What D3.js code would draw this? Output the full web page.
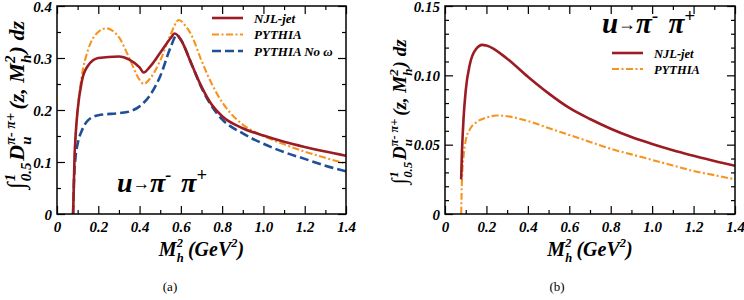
<!DOCTYPE html>
<html><head><meta charset="utf-8">
<script src="https://cdn.jsdelivr.net/npm/d3@7"></script>
<style>
body{margin:0;background:#fff;}
svg{display:block;}
text{font-family:"Liberation Serif","Times New Roman",serif;}
</style></head>
<body>
<svg id="chart" width="744" height="300" font-family="Liberation Serif"></svg>
<script>
// ---------- DATA ----------
// Panel (a)
const njlA_x = [0.078,0.085,0.09,0.1,0.12,0.15,0.2,0.3,0.35,0.4,0.42,0.45,0.5,0.55,0.57,0.6,0.65,0.7,0.75,0.8,0.9,1.0,1.1,1.2,1.3,1.4];
const njlA_y = [0,0.11,0.15,0.2,0.255,0.285,0.3,0.303,0.297,0.282,0.272,0.283,0.31,0.338,0.347,0.335,0.29,0.245,0.21,0.188,0.165,0.151,0.139,0.129,0.12,0.112];
const pyA_x  = [0.078,0.085,0.09,0.1,0.12,0.15,0.2,0.24,0.27,0.3,0.35,0.4,0.42,0.45,0.5,0.55,0.59,0.62,0.65,0.7,0.75,0.8,0.85,0.9,1.0,1.1,1.2,1.3,1.4];
const pyA_y  = [0,0.11,0.15,0.2,0.265,0.315,0.35,0.357,0.352,0.34,0.3,0.258,0.25,0.26,0.295,0.345,0.373,0.363,0.345,0.295,0.25,0.215,0.19,0.172,0.15,0.134,0.12,0.108,0.097];
const noA_x  = [0.078,0.082,0.09,0.1,0.12,0.15,0.2,0.3,0.35,0.4,0.45,0.5,0.55,0.58,0.6,0.65,0.7,0.75,0.8,0.9,1.0,1.1,1.2,1.3,1.4];
const noA_y  = [0,0.06,0.11,0.135,0.16,0.18,0.19,0.194,0.197,0.207,0.228,0.265,0.32,0.344,0.335,0.29,0.243,0.207,0.182,0.155,0.135,0.119,0.106,0.093,0.082];
// Panel (b)
const njlB_x = [0.078,0.082,0.09,0.1,0.12,0.15,0.18,0.2,0.3,0.4,0.5,0.6,0.7,0.8,0.9,1.0,1.1,1.2,1.3,1.4];
const njlB_y = [0.025,0.045,0.07,0.089,0.108,0.119,0.122,0.1215,0.112,0.099,0.087,0.0765,0.0685,0.0615,0.0555,0.0505,0.046,0.042,0.0382,0.0348];
const pyB_x  = [0.078,0.082,0.09,0.1,0.12,0.15,0.2,0.25,0.3,0.4,0.5,0.6,0.7,0.8,0.9,1.0,1.1,1.2,1.3,1.4];
const pyB_y  = [0,0.025,0.042,0.053,0.061,0.066,0.0695,0.071,0.0705,0.067,0.062,0.057,0.052,0.047,0.043,0.039,0.035,0.031,0.028,0.025];

const xTicks = [0,0.2,0.4,0.6,0.8,1.0,1.2,1.4];
const xTickLabels = ["0","0.2","0.4","0.6","0.8","1.0","1.2","1.4"];
const yTicksA = [0,0.1,0.2,0.3,0.4];
const yTickLabelsA = ["0","0.1","0.2","0.3","0.4"];
const yTicksB = [0,0.05,0.10,0.15];
const yTickLabelsB = ["0","0.05","0.10","0.15"];
const legendA = ["NJL-jet","PYTHIA","PYTHIA No \u03c9"];
const legendB = ["NJL-jet","PYTHIA"];
const captions = ["(a)","(b)"];

// ---------- STYLE ----------
const C_RED = "#9b1c23", C_ORANGE = "#f7931e", C_BLUE = "#1f4f96";
const FONT = "Liberation Serif";
const styles = {
  njl:{color:C_RED,width:2.6,dash:null},
  py:{color:C_ORANGE,width:2.1,dash:"7,2.5,2,2.5"},
  no:{color:C_BLUE,width:2.6,dash:"9,4"}
};

const svg = d3.select("#chart");

function zip(xs, ys){ return xs.map((x,i)=>[x,ys[i]]); }

function richText(g, x, y, rot, size, parts, anchor){
  const t = g.append("text")
    .attr("transform", `translate(${x},${y}) rotate(${rot})`)
    .attr("font-family",FONT)
    .attr("font-weight","bold").attr("font-style","italic")
    .attr("font-size", size).attr("text-anchor", anchor||"middle");
  let cur = 0, prev = null;
  parts.forEach(p=>{
    const sh = p.shift||0;
    const ts = t.append("tspan").text(p.t).attr("font-size", p.size||size).attr("dy", sh-cur);
    if (p.w) ts.attr("font-weight", p.w);
    let dx = p.dx||0;
    if (p.stack && prev) dx -= prev.node().getComputedTextLength();
    if (dx) ts.attr("dx", dx);
    cur = sh; prev = ts;
  });
  return t;
}

function panel(opt){
  const g = svg.append("g");
  const x = d3.scaleLinear().domain([0,1.4]).range([opt.left,opt.right]);
  const y = d3.scaleLinear().domain([0,opt.ymax]).range([opt.bottom,opt.top]);

  // curves
  const line = d3.line().x(d=>x(d[0])).y(d=>y(d[1])).curve(d3.curveMonotoneX);
  const clip = "clip"+opt.id;
  g.append("clipPath").attr("id",clip).append("rect")
    .attr("x",opt.left).attr("y",opt.top).attr("width",opt.right-opt.left).attr("height",opt.bottom-opt.top+1);
  opt.series.slice().reverse().forEach(s=>{
    const st = styles[s.key];
    g.append("path").datum(zip(s.x,s.y)).attr("d",line)
      .attr("fill","none").attr("stroke",st.color).attr("stroke-width",st.width)
      .attr("stroke-dasharray",st.dash).attr("clip-path",`url(#${clip})`);
  });

  const fmtX = (d,i)=>xTickLabels[i];
  const xMinor = d3.range(0,1.4001,0.1).filter(v=>Math.abs(Math.round(v*5)-v*5)>1e-6);
  const yMinor = d3.range(0,opt.ymax+1e-9,opt.yMinorStep).filter(v=>!opt.yTicks.some(t=>Math.abs(t-v)<1e-9));

  const mk = (axis, tr, vals, len, fmt) => {
    const a = g.append("g").attr("transform",tr)
      .call(axis.tickValues(vals).tickSizeInner(len).tickSizeOuter(0).tickPadding(0).tickFormat(fmt||""));
    a.attr("font-family",FONT);
    a.select(".domain").remove();
    a.selectAll("line").attr("stroke","#000").attr("stroke-width",1.2);
    return a;
  };
  const xb = mk(d3.axisTop(x), `translate(0,${opt.bottom})`, xTicks, 8, fmtX);
  xb.selectAll("text").attr("y", 18).attr("dy",0).attr("font-size",15).attr("fill","#000")
    .attr("font-weight","bold").attr("font-style","italic");
  mk(d3.axisTop(x), `translate(0,${opt.bottom})`, xMinor, 4);
  mk(d3.axisBottom(x), `translate(0,${opt.top})`, xTicks, 8);
  mk(d3.axisBottom(x), `translate(0,${opt.top})`, xMinor, 4);
  const yl = mk(d3.axisRight(y), `translate(${opt.left},0)`, opt.yTicks, 8, (d,i)=>opt.yLabels[i]);
  yl.selectAll("text").attr("x",-5).attr("dy","0.35em").attr("text-anchor","end").attr("font-size",15)
    .attr("fill","#000").attr("font-weight","bold").attr("font-style","italic");
  mk(d3.axisRight(y), `translate(${opt.left},0)`, yMinor, 4);
  mk(d3.axisLeft(y), `translate(${opt.right},0)`, opt.yTicks, 8);
  mk(d3.axisLeft(y), `translate(${opt.right},0)`, yMinor, 4);
  g.append("rect").attr("x",opt.left).attr("y",opt.top).attr("width",opt.right-opt.left)
    .attr("height",opt.bottom-opt.top).attr("fill","none").attr("stroke","#000").attr("stroke-width",1.5);

  // legend
  opt.legend.forEach((name,i)=>{
    const s = styles[opt.series[i].key];
    const ly = opt.legY + i*opt.legDy;
    g.append("line").attr("x1",opt.legX).attr("x2",opt.legX+31).attr("y1",ly).attr("y2",ly)
      .attr("stroke",s.color).attr("stroke-width",s.width).attr("stroke-dasharray",s.dash);
    g.append("text").attr("x",opt.legX+42).attr("y",ly+4.5).text(name).attr("font-family",FONT)
      .attr("font-size",opt.legSize).attr("font-weight","bold").attr("font-style","italic");
  });

  // process label u -> pi- pi+
  const ps = opt.procSize;
  richText(g, opt.procX, opt.procY, 0, ps, [
    {t:"u"},{t:"\u2192",size:ps*0.62,w:"normal",shift:-3},{t:"\u03c0",shift:0},
    {t:"-",size:ps*0.65,shift:-ps*0.38},{t:"\u03c0",shift:0,dx:ps*0.35},{t:"+",size:ps*0.65,shift:-ps*0.38}
  ],"start");

  // axis titles
  const cx = (opt.left+opt.right)/2;
  richText(g, cx, 256, 0, 20, [
    {t:"M"},{t:"h",size:12.5,shift:6},{t:"2",size:12.5,shift:-9,stack:true},{t:" (GeV",shift:0},{t:"2",size:12.5,shift:-9},{t:")",shift:0}
  ]);
  const ys = opt.ytSize, ss = ys*0.68;
  richText(g, opt.ytX, opt.ytY, -90, ys, [
    {t:"\u222b",size:ys*1.1},{t:"0.5",size:ss,shift:ys*0.3,dx:1},{t:"1",size:ss,shift:-ys*0.42,stack:true},
    {t:"\u2009D",shift:0,dx:ys*0.4},{t:"u",size:ss,shift:ys*0.3},{t:"\u03c0- \u03c0+",size:ss*0.95,shift:-ys*0.42,stack:true},
    {t:"(z, M",shift:0,dx:ys*0.15},{t:"h",size:ss,shift:ys*0.3},{t:"2",size:ss,shift:-ys*0.42,stack:true},{t:") dz",shift:0,dx:ys*0.1}
  ]);

  // caption
  g.append("text").attr("x",opt.capX).attr("y",291).attr("text-anchor","middle").attr("font-family",FONT)
    .attr("font-size",13).text(opt.caption);
}

panel({id:"a", left:57, right:346, top:6, bottom:214, ymax:0.4,
  yTicks:yTicksA, yLabels:yTickLabelsA, yMinorStep:0.05,
  series:[{key:"njl",x:njlA_x,y:njlA_y},{key:"py",x:pyA_x,y:pyA_y},{key:"no",x:noA_x,y:noA_y}],
  legend:legendA, legX:212, legY:18, legDy:16.5, legSize:13,
  procX:117, procY:192, procSize:28, ytX:24, ytY:105, ytSize:22, caption:captions[0], capX:170});

panel({id:"b", left:445, right:735, top:6, bottom:214, ymax:0.15,
  yTicks:yTicksB, yLabels:yTickLabelsB, yMinorStep:0.01,
  series:[{key:"njl",x:njlB_x,y:njlB_y},{key:"py",x:pyB_x,y:pyB_y}],
  legend:legendB, legX:612, legY:53, legDy:16, legSize:12.5,
  procX:602, procY:33, procSize:29, ytX:406, ytY:112, ytSize:19, caption:captions[1], capX:557});
</script>
</body></html>
